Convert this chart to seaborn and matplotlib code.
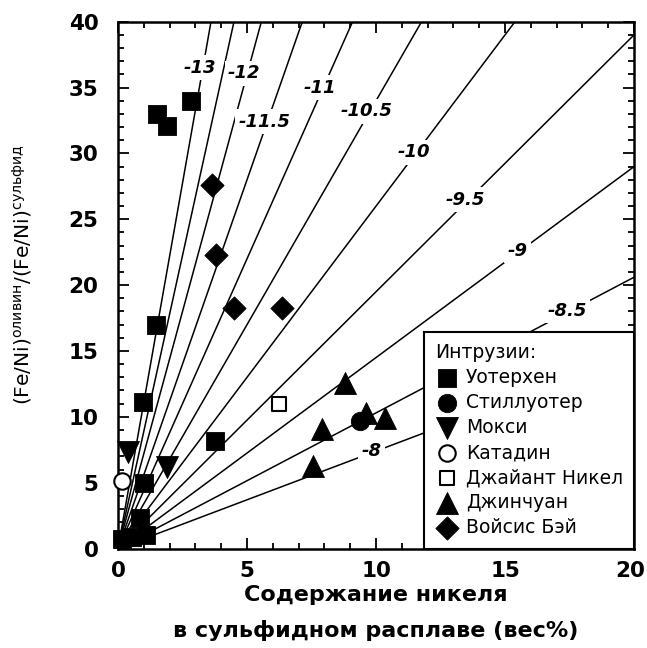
import numpy as np
import matplotlib
matplotlib.use("Agg")
import matplotlib.pyplot as plt
import seaborn as sns
from matplotlib.ticker import MultipleLocator

# Isolines of log fO2: label and slope of (Fe/Ni)ol/(Fe/Ni)sul versus Ni in sulfide
iso_labels = ["-13", "", "-12", "-11.5", "-11", "-10.5", "-10", "-9.5", "-9", "-8.5", "-8"]
iso_slopes = [11.1, 8.9, 7.2, 5.6, 4.4, 3.4, 2.6, 1.95, 1.45, 1.03, 0.74]

# Axis ticks
x_ticks = [0, 5, 10, 15, 20]
x_tick_labels = ["0", "5", "10", "15", "20"]

# Intrusions: Ni in sulfide melt (wt%) and Fe/Ni exchange ratio
waterhen_x = [1.50, 1.90, 2.81, 1.47, 0.95, 3.74, 1.00, 0.85, 1.10, 0.55, 0.15]
waterhen_y = [33.0, 32.1, 34.0, 17.0, 11.1, 8.2, 5.0, 2.3, 1.0, 0.9, 0.7]
stillwater_x = [9.38]
stillwater_y = [9.7]
moxie_x = [0.40, 1.88]
moxie_y = [7.3, 6.2]
katahdin_x = [0.15]
katahdin_y = [5.1]
giant_x = [6.22]
giant_y = [11.0]
jinchuan_x = [8.80, 9.60, 10.35, 7.92, 7.55]
jinchuan_y = [12.6, 10.3, 9.9, 9.1, 6.25]
voisey_x = [3.66, 3.78, 4.50, 6.35]
voisey_y = [27.6, 22.3, 18.3, 18.3]

sns.set_theme(style="ticks")
plt.rcParams["font.family"] = ["DejaVu Sans"]
plt.rcParams["mathtext.fontset"] = "dejavusans"
for key in ("text.color", "axes.labelcolor", "xtick.color", "ytick.color",
            "axes.edgecolor"):
    plt.rcParams[key] = "black"

fig = plt.figure(figsize=(6.47, 6.48), dpi=100)
ax = fig.add_axes([0.1824, 0.1535, 0.7976, 0.813])

# isolines through the origin
xs = np.linspace(0, 20, 60)
for slope in iso_slopes:
    sns.lineplot(x=xs, y=slope * xs, color="black", lw=1.1, ax=ax,
                 estimator=None, sort=False, zorder=1)

# isoline labels sit on the lines, breaking them with a white box
label_height = {"-13": 36.5, "-12": 36.1, "-11.5": 32.4, "-11": 35.0,
                "-10.5": 33.2, "-10": 30.1, "-9.5": 26.5, "-9": 22.6,
                "-8.5": 18.05, "-8": 7.37}
for lab, slope in zip(iso_labels, iso_slopes):
    if not lab:
        continue
    yy = label_height[lab]
    ax.text(yy / slope - 0.12, yy, lab, ha="center", va="center",
            fontsize=13, fontstyle="italic", fontweight="bold",
            color="black", zorder=2,
            bbox=dict(facecolor="white", edgecolor="none", pad=2.5))

groups = [
    ("Уотерхен", waterhen_x, waterhen_y, "s", 175, True),
    ("Стиллуотер", stillwater_x, stillwater_y, "o", 175, True),
    ("Мокси", moxie_x, moxie_y, "v", 250, True),
    ("Катадин", katahdin_x, katahdin_y, "o", 140, False),
    ("Джайант Никел", giant_x, giant_y, "s", 100, False),
    ("Джинчуан", jinchuan_x, jinchuan_y, "^", 250, True),
    ("Войсис Бэй", voisey_x, voisey_y, "D", 140, True),
]
for name, gx, gy, mk, size, filled in groups:
    sns.scatterplot(x=gx, y=gy, marker=mk, s=size, color="black",
                    edgecolor="black", linewidth=0.6 if filled else 1.5,
                    label=name, ax=ax, zorder=3, clip_on=False)
    if not filled:
        ax.collections[-1].set_facecolor("white")

ax.set_xlim(0, 20)
ax.set_ylim(0, 40)
# the last x label is drawn separately, nudged so it stays on the canvas
ax.set_xticks(x_ticks, labels=x_tick_labels[:-1] + [""])
ax.annotate(x_tick_labels[-1], xy=(x_ticks[-1], 0), xycoords="data",
            xytext=(-2.5, -9), textcoords="offset points",
            ha="center", va="top", fontsize=15.5, fontweight="bold",
            color="black", annotation_clip=False)
ax.xaxis.set_minor_locator(MultipleLocator(1))
ax.yaxis.set_major_locator(MultipleLocator(5))
ax.yaxis.set_minor_locator(MultipleLocator(1))
ax.tick_params(which="both", direction="in", top=True, right=True,
               width=1.3, color="black")
ax.tick_params(which="major", length=8, labelsize=15.5)
ax.tick_params(axis="x", which="major", pad=9)
ax.tick_params(axis="y", which="major", pad=14)
ax.tick_params(which="minor", length=4.5)
for t in ax.get_xticklabels() + ax.get_yticklabels():
    t.set_fontweight("bold")
for sp in ax.spines.values():
    sp.set_linewidth(1.8)
    sp.set_color("black")

ax.set_xlabel("Содержание никеля\nв сульфидном расплаве (вес%)",
              fontsize=16, fontweight="bold", linespacing=1.9, labelpad=3)
ax.set_ylabel(r"$(\mathrm{Fe/Ni})^{\mathrm{оливин}}/(\mathrm{Fe/Ni})^{\mathrm{сульфид}}$",
              fontsize=14.5)
ax.yaxis.set_label_coords(-0.163, 0.52)

leg = ax.legend(title="Интрузии:", loc="lower right", bbox_to_anchor=(1, 0),
                borderaxespad=0, frameon=True, fancybox=False,
                edgecolor="black", framealpha=1, fontsize=13.5,
                title_fontsize=13.5, handlelength=1.3, handletextpad=0.35,
                labelspacing=0.32, borderpad=0.6, alignment="left",
                scatterpoints=1)
leg.get_frame().set_linewidth(1.5)
leg.set_zorder(5)

fig.savefig("out.png", dpi=100)
